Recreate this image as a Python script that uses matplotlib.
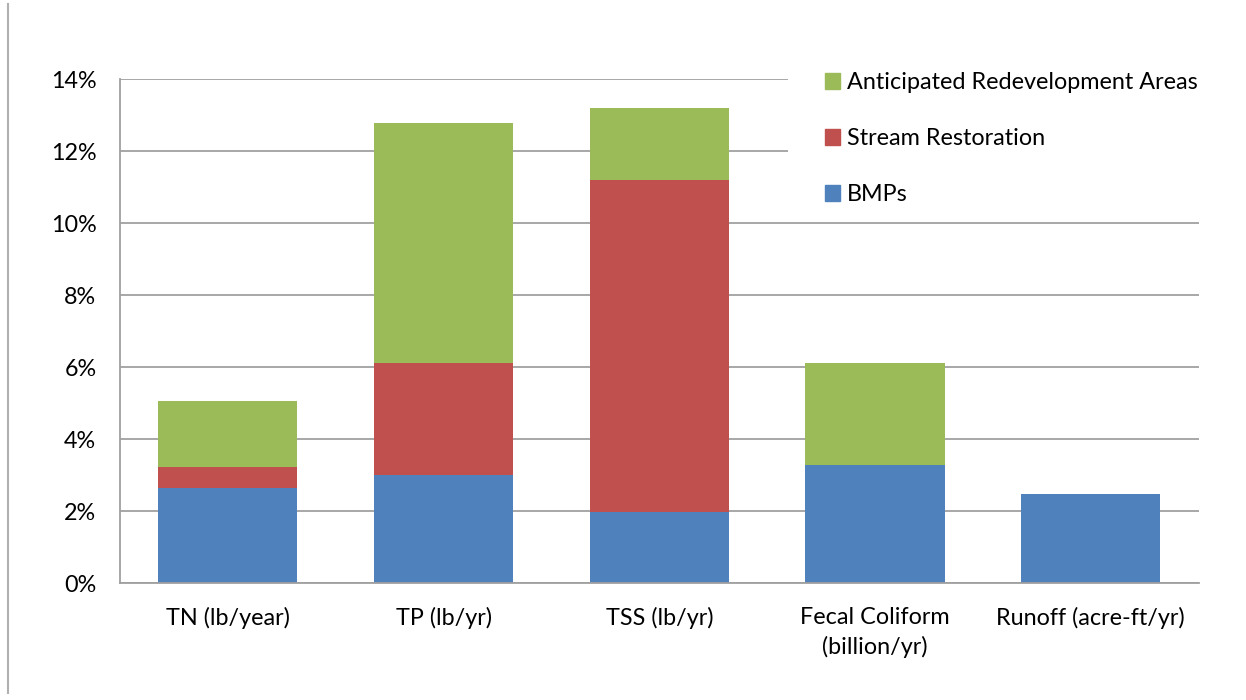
import numpy as np
import matplotlib
matplotlib.use("Agg")
import matplotlib.pyplot as plt
from matplotlib.patches import Rectangle, Patch
from matplotlib.ticker import FuncFormatter

plt.rcParams["font.family"] = ["Lato", "DejaVu Sans"]

categories = ["TN (lb/year)", "TP (lb/yr)", "TSS (lb/yr)",
              "Fecal Coliform\n(billion/yr)", "Runoff (acre-ft/yr)"]
bmps = [2.64, 3.0, 1.97, 3.28, 2.47]
stream = [0.58, 3.11, 9.22, 0.0, 0.0]
redevelopment = [1.83, 6.67, 2.0, 2.83, 0.0]

blue = "#4F81BD"
red = "#C0504D"
green = "#9BBB59"
grid_gray = "#A0A0A0"
fs = 16.8

fig = plt.figure(figsize=(12.46, 7), dpi=100)
ax = fig.add_axes([0.0963, 0.1671, 0.8657, 0.72])

x = np.arange(len(categories))
w = 0.645
bmps = np.array(bmps)
stream = np.array(stream)
redevelopment = np.array(redevelopment)

ax.bar(x, bmps, w, color=blue, linewidth=0, zorder=2)
ax.bar(x, stream, w, bottom=bmps, color=red, linewidth=0, zorder=2)
ax.bar(x, redevelopment, w, bottom=bmps + stream, color=green, linewidth=0, zorder=2)

ax.set_xlim(-0.5, len(categories) - 0.5)
ax.set_ylim(0, 14)
ax.set_yticks(np.arange(0, 15, 2))
ax.yaxis.set_major_formatter(FuncFormatter(lambda v, p: "%d%%" % v))
ax.set_xticks(x)
ax.set_xticklabels(categories, linespacing=1.42)
ax.tick_params(axis="both", length=0, labelsize=fs, colors="black")
ax.tick_params(axis="y", pad=17)
ax.tick_params(axis="x", pad=17.5)

ax.grid(axis="y", color=grid_gray, linewidth=1.3)
ax.set_axisbelow(True)
for s in ["top", "right"]:
    ax.spines[s].set_visible(False)
for s in ["left", "bottom"]:
    ax.spines[s].set_color(grid_gray)
    ax.spines[s].set_linewidth(1.3)

# white block behind the legend hides the upper gridlines
mask = Rectangle((788 / 1246, 1 - 200 / 700), 1, 200 / 700, transform=fig.transFigure,
                 facecolor="white", edgecolor="none", zorder=1.5, clip_on=False)
ax.add_patch(mask)

handles = [Patch(color=green), Patch(color=red), Patch(color=blue)]
labels = ["Anticipated Redevelopment Areas", "Stream Restoration", "BMPs"]
fig.legend(handles, labels, loc="upper left", bbox_to_anchor=(825 / 1246, 1 - 72 / 700),
           frameon=False, fontsize=fs, borderpad=0, borderaxespad=0,
           handlelength=0.64, handleheight=0.64, handletextpad=0.3, labelspacing=1.5)

# outer chart frame line on the left
fig.add_artist(plt.Line2D([8 / 1246, 8 / 1246], [0.01, 0.995], color="#B0B0B0",
                          linewidth=1.5, transform=fig.transFigure))

fig.savefig("out.png", dpi=100)
